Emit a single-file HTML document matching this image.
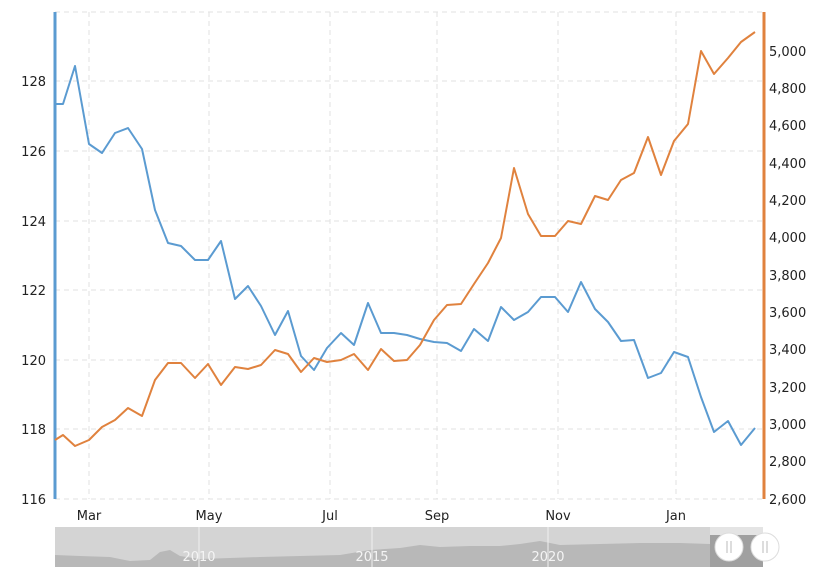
<!DOCTYPE html>
<html><head><style>
body{margin:0;background:#fff;}
svg text{font-family:"DejaVu Sans","Liberation Sans",sans-serif;font-size:13px;fill:#222;}
</style></head><body>
<svg width="832" height="583" viewBox="0 0 832 583" xmlns="http://www.w3.org/2000/svg">
<g stroke="#e2e2e2" stroke-dasharray="5,4" stroke-width="1">
<line x1="55" x2="763" y1="12" y2="12"/><line x1="55" x2="763" y1="81" y2="81"/>
<line x1="55" x2="763" y1="151" y2="151"/><line x1="55" x2="763" y1="221" y2="221"/>
<line x1="55" x2="763" y1="290" y2="290"/><line x1="55" x2="763" y1="360" y2="360"/>
<line x1="55" x2="763" y1="429" y2="429"/><line x1="55" x2="763" y1="499" y2="499"/>
<line x1="89" x2="89" y1="12" y2="499"/><line x1="209" x2="209" y1="12" y2="499"/>
<line x1="330" x2="330" y1="12" y2="499"/><line x1="437" x2="437" y1="12" y2="499"/>
<line x1="558" x2="558" y1="12" y2="499"/><line x1="676" x2="676" y1="12" y2="499"/>
</g>
<line x1="55" x2="55" y1="12" y2="499" stroke="#5b9bd1" stroke-width="3"/>
<line x1="764" x2="764" y1="12" y2="499" stroke="#e0823e" stroke-width="3"/>
<g text-anchor="end">
<text x="46" y="86">128</text><text x="46" y="156">126</text><text x="46" y="226">124</text>
<text x="46" y="295">122</text><text x="46" y="365">120</text><text x="46" y="434">118</text><text x="46" y="504">116</text>
</g>
<g text-anchor="start">
<text x="769" y="56">5,000</text><text x="769" y="93">4,800</text><text x="769" y="130">4,600</text>
<text x="769" y="168">4,400</text><text x="769" y="205">4,200</text><text x="769" y="242">4,000</text>
<text x="769" y="280">3,800</text><text x="769" y="317">3,600</text><text x="769" y="354">3,400</text>
<text x="769" y="392">3,200</text><text x="769" y="429">3,000</text><text x="769" y="466">2,800</text>
<text x="769" y="504">2,600</text>
</g>
<g text-anchor="middle">
<text x="89" y="520">Mar</text><text x="209" y="520">May</text><text x="330" y="520">Jul</text>
<text x="437" y="520">Sep</text><text x="558" y="520">Nov</text><text x="676" y="520">Jan</text>
</g>
<polyline fill="none" stroke="#5b9bd1" stroke-width="2" stroke-linejoin="round" points="55,104 63,104 75,66 89,144 102,153 115,133 128,128 142,149 155,210 168,243 181,246 195,260 208,260 221,241 235,299 248,286 261,306 275,335 288,311 301,356 314,370 327,348 341,333 354,345 368,303 381,333 394,333 407,335 420,339 434,342 447,343 461,351 474,329 488,341 501,307 514,320 528,312 541,297 555,297 568,312 581,282 595,309 608,322 621,341 634,340 648,378 661,373 674,352 688,357 701,397 714,432 728,421 741,445 755,428"/>
<polyline fill="none" stroke="#e0823e" stroke-width="2" stroke-linejoin="round" points="55,440 63,435 75,446 89,440 102,427 115,420 128,408 142,416 155,380 168,363 181,363 195,378 208,364 221,385 235,367 248,369 261,365 275,350 288,354 301,372 314,358 327,362 341,360 354,354 368,370 381,349 394,361 407,360 420,345 434,320 447,305 461,304 474,284 488,263 501,238 514,168 528,214 541,236 555,236 568,221 581,224 595,196 608,200 621,180 634,173 648,137 661,175 674,141 688,124 701,51 714,74 728,58 741,42 755,32"/>
<rect x="55" y="527" width="708" height="40" fill="#d4d4d4"/>
<polygon fill="#b8b8b8" points="55,567 55,555 80,556 110,557 130,561 150,560 160,552 170,550 180,556 200,559 230,558 260,557 300,556 340,555 370,550 400,548 420,545 440,547 470,546 500,546 520,544 540,541 560,545 600,544 640,543 680,543 710,544 710,567"/>
<rect x="710" y="527" width="53" height="40" fill="#a0a0a0"/>
<rect x="710" y="527" width="53" height="8" fill="#e4e4e4"/>
<g stroke="#f0f0f0" stroke-width="1"><line x1="199" x2="199" y1="527" y2="567"/><line x1="372" x2="372" y1="527" y2="567"/><line x1="548" x2="548" y1="527" y2="567"/></g>
<g text-anchor="middle"><text x="199" y="561" style="fill:#f4f4f4">2010</text><text x="372" y="561" style="fill:#f4f4f4">2015</text><text x="548" y="561" style="fill:#f4f4f4">2020</text></g>
<circle cx="729" cy="547" r="14" fill="#fff" stroke="#ddd"/>
<circle cx="765" cy="547" r="14" fill="#fff" stroke="#ddd"/>
<g stroke="#bbb"><line x1="727" x2="727" y1="541" y2="553"/><line x1="731" x2="731" y1="541" y2="553"/><line x1="763" x2="763" y1="541" y2="553"/><line x1="767" x2="767" y1="541" y2="553"/></g>
</svg>
</body></html>
